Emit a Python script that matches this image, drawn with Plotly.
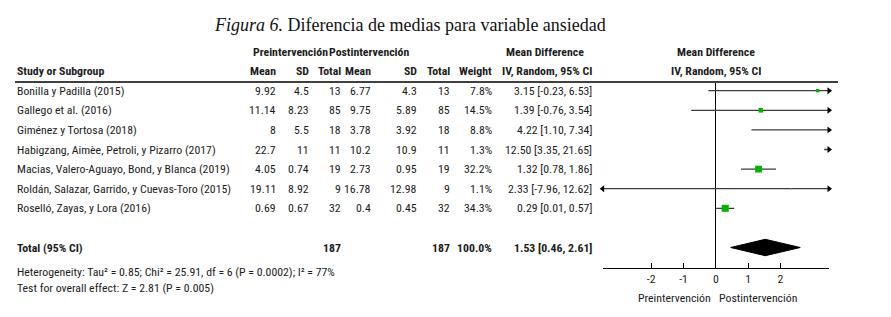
import plotly.graph_objects as go

# ---------------- data ----------------
studies = ["Bonilla y Padilla (2015)", "Gallego et al. (2016)", "Giménez y Tortosa (2018)",
           "Habigzang, Aimèe, Petroli, y Pizarro (2017)", "Macias, Valero-Aguayo, Bond, y Blanca (2019)",
           "Roldán, Salazar, Garrido, y Cuevas-Toro (2015)", "Roselló, Zayas, y Lora (2016)"]
pre_mean = ["9.92", "11.14", "8", "22.7", "4.05", "19.11", "0.69"]
pre_sd = ["4.5", "8.23", "5.5", "11", "0.74", "8.92", "0.67"]
pre_n = ["13", "85", "18", "11", "19", "9", "32"]
post_mean = ["6.77", "9.75", "3.78", "10.2", "2.73", "16.78", "0.4"]
post_sd = ["4.3", "5.89", "3.92", "10.9", "0.95", "12.98", "0.45"]
post_n = ["13", "85", "18", "11", "19", "9", "32"]
weight = [7.8, 14.5, 8.8, 1.3, 32.2, 1.1, 34.3]
md = [3.15, 1.39, 4.22, 12.50, 1.32, 2.33, 0.29]
ci_lo = [-0.23, -0.76, 1.10, 3.35, 0.78, -7.96, 0.01]
ci_hi = [6.53, 3.54, 7.34, 21.65, 1.86, 12.62, 0.57]

total_pre, total_post = "187", "187"
total_weight = "100.0%"
total_md, total_lo, total_hi = 1.53, 0.46, 2.61

tick_vals = [-2, -1, 0, 1, 2]
tick_text = ["-2", "-1", "0", "1", "2"]
x_limit = 3.5

title_it = "Figura 6."
title_rest = " Diferencia de medias para variable ansiedad"
heterogeneity = "Heterogeneity: Tau² = 0.85; Chi² = 25.91, df = 6 (P = 0.0002); I² = 77%"
overall = "Test for overall effect: Z = 2.81 (P = 0.005)"
favours_left, favours_right = "Preintervención", "Postintervención"

# ---------------- layout constants ----------------
W, H = 891, 317
ROW0, STEP = 90.7, 19.6          # pixel y of first study row, row spacing
TOTAL_IDX = 8


def idx(py):
    return (py - ROW0) / STEP


FONT = "Roboto Condensed, DejaVu Sans Condensed, sans-serif"
FS = 11.8
TXT = "#1c1c1c"
GREEN = "#00b400"
LINE = "#3c3c3c"

fig = go.Figure()

# ---- forest panel (x, y) ----
for i in range(len(studies)):
    lo_c = max(ci_lo[i], -x_limit)
    hi_c = min(ci_hi[i], x_limit)
    fig.add_trace(go.Scatter(x=[lo_c, hi_c], y=[i, i], mode="lines",
                             line=dict(color=LINE, width=1.3), hoverinfo="skip",
                             showlegend=False, xaxis="x", yaxis="y", cliponaxis=False))
    if ci_hi[i] > x_limit:
        fig.add_trace(go.Scatter(x=[x_limit], y=[i], mode="markers",
                                 marker=dict(symbol="triangle-right", size=6, color="black"),
                                 showlegend=False, hoverinfo="skip", xaxis="x", yaxis="y", cliponaxis=False))
    if ci_lo[i] < -x_limit:
        fig.add_trace(go.Scatter(x=[-x_limit], y=[i], mode="markers",
                                 marker=dict(symbol="triangle-left", size=6, color="black"),
                                 showlegend=False, hoverinfo="skip", xaxis="x", yaxis="y", cliponaxis=False))
    if -x_limit <= md[i] <= x_limit:
        fig.add_trace(go.Scatter(x=[md[i]], y=[i], mode="markers",
                                 marker=dict(symbol="square", size=1.2 * weight[i] ** 0.5, color=GREEN,
                                             line=dict(width=0)),
                                 showlegend=False, hoverinfo="skip", xaxis="x", yaxis="y", cliponaxis=False))

dh = 8.2 / STEP
fig.add_trace(go.Scatter(x=[total_lo, total_md, total_hi, total_md, total_lo],
                         y=[TOTAL_IDX, TOTAL_IDX - dh, TOTAL_IDX, TOTAL_IDX + dh, TOTAL_IDX],
                         mode="lines", fill="toself", fillcolor="black", line=dict(color="black", width=1),
                         showlegend=False, hoverinfo="skip", xaxis="x", yaxis="y"))

# invisible anchor trace for the full-frame text axes
fig.add_trace(go.Scatter(x=[0], y=[0], mode="markers", marker=dict(opacity=0), xaxis="x2", yaxis="y2",
                         showlegend=False, hoverinfo="skip"))

# ---- table text (x2, y2 full frame) ----
ann = []


def t(x, py, text, anchor="left", bold=False, size=FS, family=FONT):
    ann.append(dict(x=x, y=idx(py), xref="x2", yref="y2", text=("<b>%s</b>" % text) if bold else text,
                    showarrow=False, xanchor=anchor, yanchor="middle",
                    font=dict(family=family, size=size, color=TXT)))


# title
ann.append(dict(x=410, y=idx(25), xref="x2", yref="y2",
                text="<i>%s</i>%s" % (title_it, title_rest), showarrow=False,
                xanchor="center", yanchor="middle",
                font=dict(family="Liberation Serif, Times New Roman, serif", size=18, color="#111")))

HY1, HY2 = 52.3, 70.5
t(290, HY1, "Preintervención", "center", True)
t(369, HY1, "Postintervención", "center", True)
t(545, HY1, "Mean Difference", "center", True)
t(715.5, HY1, "Mean Difference", "center", True)

t(15, HY2, "Study or Subgroup", "left", True)
col_r = [278, 310.5, 342.5, 373, 419, 452, 494, 594]
heads = ["Mean", "SD", "Total", "Mean", "SD", "Total", "Weight", "IV, Random, 95% CI"]
for xr, h in zip(col_r, heads):
    t(xr, HY2, h, "right", True)
t(715.5, HY2, "IV, Random, 95% CI", "center", True)

for i, s in enumerate(studies):
    py = ROW0 + i * STEP
    t(15, py, s)
    vals = [pre_mean[i], pre_sd[i], pre_n[i], post_mean[i], post_sd[i], post_n[i],
            "%.1f%%" % weight[i], "%.2f [%.2f, %.2f]" % (md[i], ci_lo[i], ci_hi[i])]
    for xr, v in zip(col_r, vals):
        t(xr, py, v, "right")

pyT = ROW0 + TOTAL_IDX * STEP
t(15, pyT, "Total (95% CI)", "left", True)
t(col_r[2], pyT, total_pre, "right", True)
t(col_r[5], pyT, total_post, "right", True)
t(col_r[6], pyT, total_weight, "right", True)
t(col_r[7], pyT, "%.2f [%.2f, %.2f]" % (total_md, total_lo, total_hi), "right", True)

t(15, 271.7, heterogeneity)
t(15, 288.3, overall)
t(674.7, 297.7, favours_left, "center")
t(757.7, 297.7, favours_right, "center")

shapes = [dict(type="line", xref="x2", yref="y2", x0=15, x1=838, y0=idx(82), y1=idx(82),
               line=dict(color="black", width=1.5))]

fig.update_layout(
    width=W, height=H, margin=dict(l=0, r=0, t=0, b=0),
    paper_bgcolor="white", plot_bgcolor="rgba(0,0,0,0)",
    annotations=ann, shapes=shapes, showlegend=False,
    xaxis=dict(domain=[602.7 / W, 829 / W], range=[-x_limit, x_limit], tickvals=tick_vals,
               ticktext=tick_text, ticks="inside", ticklen=5, tickcolor="black", tickwidth=1,
               showline=True, linecolor="black", linewidth=1.2, showgrid=False,
               zeroline=True, zerolinecolor="black", zerolinewidth=1,
               tickfont=dict(family=FONT, size=FS, color=TXT), fixedrange=True, anchor="y"),
    yaxis=dict(domain=[(H - 267.7) / H, (H - 83) / H], range=[idx(267.7), idx(83)],
               visible=False, fixedrange=True, anchor="x"),
    xaxis2=dict(domain=[0, 1], range=[0, W], visible=False, anchor="y2", fixedrange=True),
    yaxis2=dict(domain=[0, 1], range=[idx(H), idx(0)], visible=False, anchor="x2", fixedrange=True),
)

fig.write_html("out.html", config={"displayModeBar": False},
               post_script="document.body.style.margin='0';")
